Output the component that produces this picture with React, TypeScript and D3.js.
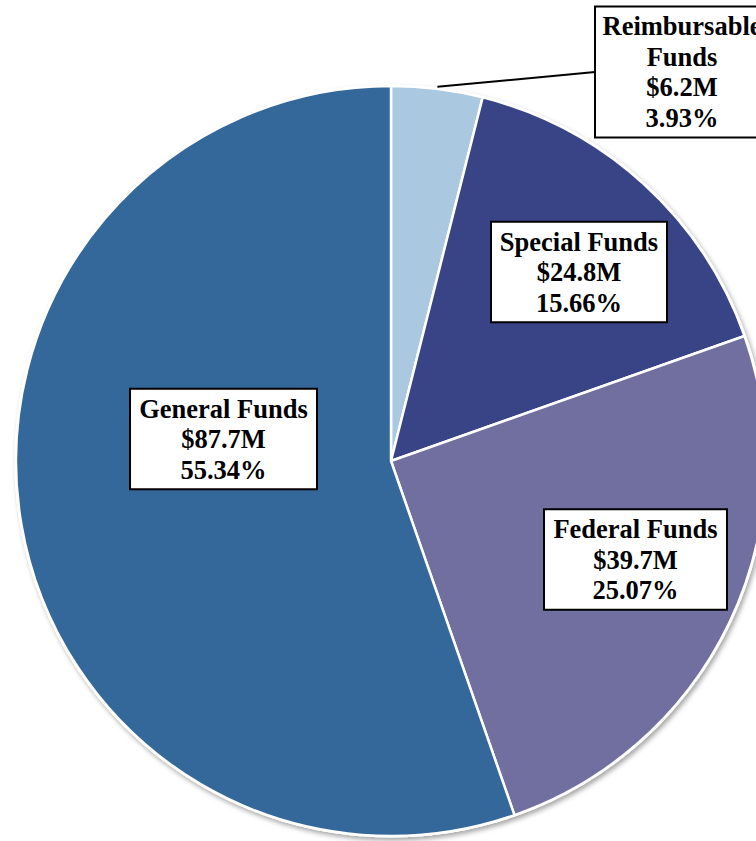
import React, { useEffect } from 'react';
import * as d3 from 'd3';

// Fund sources, clockwise from 12 o'clock
const categories = ['Reimbursable Funds', 'Special Funds', 'Federal Funds', 'General Funds'];
const amounts = ['$6.2M', '$24.8M', '$39.7M', '$87.7M'];
const percents = [3.93, 15.66, 25.07, 55.34];
const colors = ['#abc8e1', '#394486', '#706fa0', '#34679a'];

// label text lines per slice (Reimbursable wraps onto two lines)
const labelLines = [
  ['Reimbursable', 'Funds'],
  ['Special Funds'],
  ['Federal Funds'],
  ['General Funds'],
];

const width = 756;
const height = 841;
const cx = 391;
const cy = 461;
const radius = 375;

// manual label placement, box centre offsets from the pie centre
const labelOffsets = [
  { dx: 291, dy: -389, w: 174 },
  { dx: 188, dy: -189, w: 176 },
  { dx: 244.5, dy: 98.5, w: 183 },
  { dx: -167.5, dy: -22, w: 187 },
];

const fontSize = 26.5;
const lineH = 30.5;

const App = () => {
  useEffect(() => {
    document.body.style.margin = '0';
  }, []);

  const pie = d3.pie<number>().sort(null).value(d => d).startAngle(0).endAngle(2 * Math.PI);
  const arcs = pie(percents);
  const arc = d3.arc<d3.PieArcDatum<number>>().innerRadius(0).outerRadius(radius);

  return (
    <svg width={width} height={height} style={{ display: 'block' }}>
      <defs>
        <filter id="shadow" x="-10%" y="-10%" width="120%" height="120%">
          <feDropShadow dx="2" dy="3" stdDeviation="2.5" floodColor="#000" floodOpacity="0.35" />
        </filter>
      </defs>
      <g transform={`translate(${cx},${cy})`}>
        <circle r={radius + 1.5} fill="#fff" filter="url(#shadow)" />
        {arcs.map((a, i) => (
          <path key={categories[i]} d={arc(a) || ''} fill={colors[i]} stroke="#fff" strokeWidth={2.5} strokeLinejoin="round" />
        ))}

        {arcs.map((a, i) => {
          const off = labelOffsets[i];
          const lines = [...labelLines[i], amounts[i], `${percents[i].toFixed(2)}%`];
          const h = lines.length * lineH + 9;
          const x0 = off.dx - off.w / 2;
          const y0 = off.dy - h / 2;
          let leader = null;
          if (i === 0) {
            const mid = (a.startAngle + a.endAngle) / 2;
            const px = Math.sin(mid) * (radius + 2);
            const py = -Math.cos(mid) * (radius + 2);
            leader = <line x1={px} y1={py} x2={x0} y2={off.dy} stroke="#000" strokeWidth={2} />;
          }
          return (
            <g key={`lbl-${i}`}>
              {leader}
              <rect x={x0} y={y0} width={off.w} height={h} fill="#fff" stroke="#000" strokeWidth={2} />
              {lines.map((t, j) => (
                <text
                  key={j}
                  x={off.dx}
                  y={y0 + 4.5 + lineH * (j + 0.5)}
                  textAnchor="middle"
                  dominantBaseline="central"
                  fontFamily="'Liberation Serif', 'Times New Roman', serif"
                  fontWeight="bold"
                  fontSize={fontSize}
                  fill="#000"
                >
                  {t}
                </text>
              ))}
            </g>
          );
        })}
      </g>
    </svg>
  );
};

export default App;
